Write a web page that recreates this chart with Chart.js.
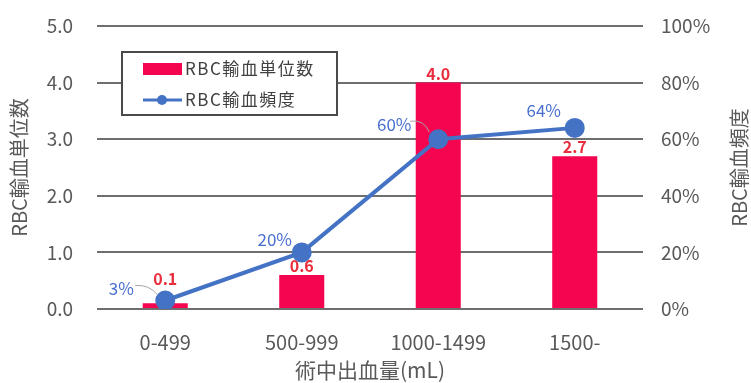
<!DOCTYPE html>
<html>
<head>
<meta charset="utf-8">
<script src="https://cdn.jsdelivr.net/npm/chart.js@4/dist/chart.umd.min.js"></script>
<style>
  html, body { margin: 0; padding: 0; background: #fff; }
  #wrap { width: 751px; height: 383px; position: relative; }
</style>
</head>
<body>
<div id="wrap"><canvas id="c" width="751" height="383"></canvas></div>
<script>
const categories = ["0-499", "500-999", "1000-1499", "1500-"];
const unitValues = [0.1, 0.6, 4.0, 2.7];      // RBC輸血単位数
const freqValues = [3, 20, 60, 64];           // RBC輸血頻度 (%)
const unitLabels = ["0.1", "0.6", "4.0", "2.7"];
const freqLabels = ["3%", "20%", "60%", "64%"];

const FONT = '"Noto Sans CJK JP", "Noto Sans", sans-serif';
const GRAY = "#595959";
const BAR = "#f5054f";
const LINE = "#4472c4";

// value labels, axis titles that Chart.js can't orient, and the boxed legend
const overlay = {
    id: "overlay",
    afterDatasetsDraw(chart) {
        const ctx = chart.ctx;
        ctx.save();
        const bars = chart.getDatasetMeta(0).data;
        const lift = [16, 1, 1, 1];
        ctx.font = "600 16px " + FONT;
        ctx.fillStyle = "#ea2d3d";
        ctx.textAlign = "center";
        ctx.textBaseline = "bottom";
        bars.forEach((b, i) => ctx.fillText(unitLabels[i], b.x, b.y - lift[i]));

        const pts = chart.getDatasetMeta(1).data;
        const offs = [[-44, -12], [-27, -13], [-44, -15], [-31, -17]];
        ctx.font = "17px " + FONT;
        ctx.fillStyle = "#4a6fd0";
        ctx.textBaseline = "middle";
        pts.forEach((p, i) => ctx.fillText(freqLabels[i], p.x + offs[i][0], p.y + offs[i][1]));
        // leader lines
        ctx.strokeStyle = "#a6a6a6";
        ctx.lineWidth = 1;
        ctx.beginPath();
        ctx.moveTo(pts[0].x - 30, pts[0].y - 15);
        ctx.quadraticCurveTo(pts[0].x - 16, pts[0].y - 16, pts[0].x - 8, pts[0].y - 6);
        ctx.moveTo(pts[2].x - 28, pts[2].y - 18);
        ctx.quadraticCurveTo(pts[2].x - 14, pts[2].y - 20, pts[2].x - 9, pts[2].y - 7);
        ctx.stroke();

        // right axis title, reading bottom to top
        const ya = chart.scales.y1;
        ctx.font = "20px " + FONT;
        ctx.fillStyle = GRAY;
        ctx.textAlign = "center";
        ctx.translate(739, (ya.top + ya.bottom) / 2);
        ctx.rotate(-Math.PI / 2);
        ctx.fillText("RBC輸血頻度", 0, 0);
        ctx.restore();

        // legend box
        ctx.save();
        ctx.fillStyle = "#fff";
        ctx.fillRect(122, 52, 215, 63);
        ctx.strokeStyle = "#4a4a4a";
        ctx.lineWidth = 2;
        ctx.strokeRect(122, 52, 215, 63);
        ctx.fillStyle = BAR;
        ctx.fillRect(143, 63, 39, 12);
        ctx.strokeStyle = LINE;
        ctx.lineWidth = 3;
        ctx.beginPath();
        ctx.moveTo(143, 100);
        ctx.lineTo(182, 100);
        ctx.stroke();
        ctx.fillStyle = LINE;
        ctx.beginPath();
        ctx.arc(162, 100, 5, 0, Math.PI * 2);
        ctx.fill();
        ctx.font = "17px " + FONT;
        ctx.letterSpacing = "1.5px";
        ctx.fillStyle = "#404040";
        ctx.textAlign = "left";
        ctx.textBaseline = "middle";
        ctx.fillText("RBC輸血単位数", 185, 69);
        ctx.fillText("RBC輸血頻度", 185, 100);
        ctx.restore();
    }
};

// tick labels may overhang the plot area; don't let them push it down
const noOverhang = s => { s.paddingTop = 0; s.paddingBottom = 0; };

new Chart(document.getElementById("c"), {
    data: {
        labels: categories,
        datasets: [
            {
                type: "bar",
                label: "RBC輸血単位数",
                data: unitValues,
                backgroundColor: BAR,
                yAxisID: "y",
                categoryPercentage: 1.0,
                barPercentage: 0.33,
                order: 2
            },
            {
                type: "line",
                label: "RBC輸血頻度",
                data: freqValues,
                borderColor: LINE,
                backgroundColor: LINE,
                borderWidth: 4,
                pointRadius: 8,
                pointHoverRadius: 8,
                yAxisID: "y1",
                order: 1
            }
        ]
    },
    options: {
        responsive: false,
        animation: false,
        layout: { padding: { top: 26, left: 4, right: 0, bottom: 0 } },
        plugins: { legend: { display: false }, tooltip: { enabled: false } },
        scales: {
            x: {
                grid: { display: false },
                border: { display: false },
                ticks: { color: GRAY, font: { family: FONT, size: 20 }, padding: 13 },
                title: { display: true, text: "術中出血量(mL)", color: GRAY, font: { family: FONT, size: 21 }, padding: { top: 0, bottom: 0 } },
                afterFit: s => { s.height = 74; }
            },
            y: {
                position: "left",
                min: 0, max: 5,
                ticks: { stepSize: 1, color: GRAY, font: { family: FONT, size: 19 }, padding: 24, callback: v => v.toFixed(1) },
                grid: { color: "#6e6e6e", lineWidth: 2, drawTicks: false },
                border: { display: false },
                title: { display: true, text: "RBC輸血単位数", color: GRAY, font: { family: FONT, size: 20 }, padding: { top: 3, bottom: 0 } },
                afterFit: s => { s.width = 93; noOverhang(s); }
            },
            y1: {
                position: "right",
                min: 0, max: 100,
                ticks: { stepSize: 20, color: GRAY, font: { family: FONT, size: 19 }, padding: 18, callback: v => v + "%" },
                grid: { drawOnChartArea: false, drawTicks: false },
                border: { display: false },
                afterFit: s => { s.width = 108; noOverhang(s); }
            }
        }
    },
    plugins: [overlay]
});
</script>
</body>
</html>
